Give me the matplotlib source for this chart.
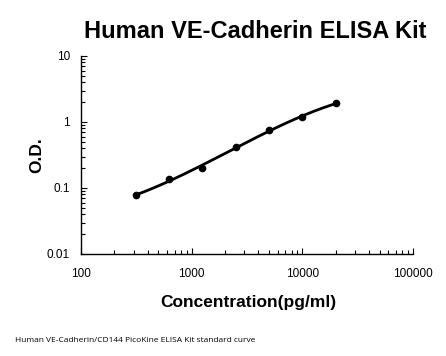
import numpy as np
import matplotlib
matplotlib.use("Agg")
import matplotlib.pyplot as plt
from matplotlib.ticker import LogLocator, FixedLocator, FixedFormatter, NullFormatter

concentration = [312.5, 625, 1250, 2500, 5000, 10000, 20000]
od = [0.0774, 0.135, 0.203, 0.423, 0.748, 1.19, 1.92]
x_ticks = [100, 1000, 10000, 100000]
x_labels = ["100", "1000", "10000", "100000"]
y_ticks = [0.01, 0.1, 1, 10]
y_labels = ["0.01", "0.1", "1", "10"]

title = "Human VE-Cadherin ELISA Kit"
xlabel = "Concentration(pg/ml)"
ylabel = "O.D."
footnote = "Human VE-Cadherin/CD144 PicoKine ELISA Kit standard curve"

plt.rcParams['font.family'] = ['Liberation Sans', 'DejaVu Sans']

W, H = 446, 356
fig = plt.figure(figsize=(W / 100, H / 100), dpi=100)
ax = fig.add_axes([81 / W, 1 - 254 / H, (413 - 81) / W, (254 - 56) / H])

# fitted standard curve (cubic in log-log space)
lx = np.log10(concentration)
ly = np.log10(od)
coef = np.polyfit(lx, ly, 3)
fx = np.linspace(lx.min(), lx.max(), 200)
fy = np.polyval(coef, fx)
ax.plot(10 ** fx, 10 ** fy, color='black', lw=2)
ax.plot(concentration, od, 'o', color='black', ms=4.5)

ax.set_xscale('log')
ax.set_yscale('log')
ax.set_xlim(100, 100000)
ax.set_ylim(0.01, 10)

ax.xaxis.set_major_locator(FixedLocator(x_ticks))
ax.xaxis.set_major_formatter(FixedFormatter(x_labels))
ax.yaxis.set_major_locator(FixedLocator(y_ticks))
ax.yaxis.set_major_formatter(FixedFormatter(y_labels))
ax.xaxis.set_minor_locator(LogLocator(base=10, subs=np.arange(2, 10)))
ax.yaxis.set_minor_locator(LogLocator(base=10, subs=np.arange(2, 10)))
ax.xaxis.set_minor_formatter(NullFormatter())
ax.yaxis.set_minor_formatter(NullFormatter())

ax.tick_params(which='both', direction='in', width=0.8, labelsize=8.5, colors='black')
ax.tick_params(which='major', length=4)
ax.tick_params(which='minor', length=3)
ax.tick_params(axis='x', which='major', pad=10)
ax.tick_params(axis='y', which='major', pad=8)

for s in ['top', 'right']:
    ax.spines[s].set_visible(False)
for s in ['left', 'bottom']:
    ax.spines[s].set_linewidth(1.0)

fig.text(255 / W, 1 - 31 / H, title, ha='center', va='center', fontsize=17, fontweight='bold')
fig.text(248 / W, 1 - 302 / H, xlabel, ha='center', va='center', fontsize=12.5, fontweight='bold')
fig.text(37 / W, 1 - 155 / H, ylabel, ha='center', va='center', fontsize=12.5, fontweight='bold', rotation=90)
fig.text(15 / W, 1 - 340 / H, footnote, ha='left', va='center', fontsize=6.0, family=['Open Sans', 'DejaVu Sans'])

fig.savefig('out.png', dpi=100, facecolor='white')
